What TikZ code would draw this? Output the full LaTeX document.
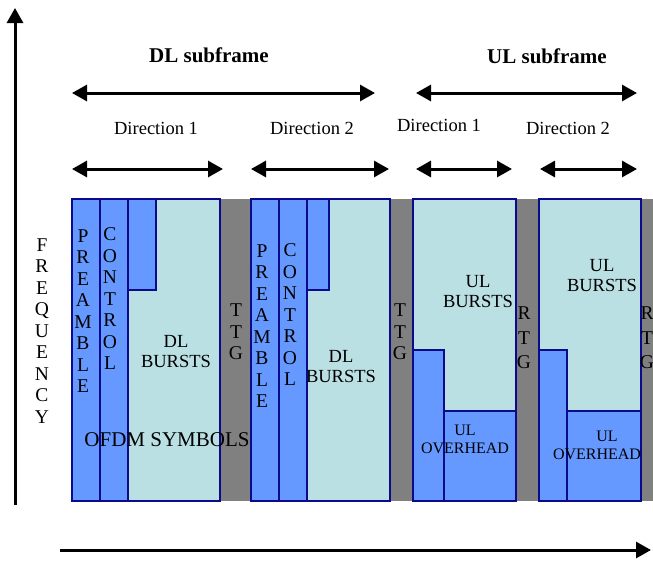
\documentclass[tikz,border=0pt]{standalone}
\usepackage{fontspec}
\setmainfont{Liberation Serif}
\usetikzlibrary{arrows.meta}
\definecolor{blk}{HTML}{6699FF}
\definecolor{lite}{HTML}{BBE0E3}
\definecolor{gap}{HTML}{808080}
\definecolor{edge}{HTML}{0A0A8A}
\tikzset{
  blue block/.style={fill=blk,draw=edge,line width=1.5pt},
  light block/.style={fill=lite,draw=edge,line width=1.5pt},
  txt/.style={font=\fontsize{18.5}{20}\selectfont,align=center,inner sep=0pt},
  small txt/.style={font=\fontsize{16}{18}\selectfont,align=center,inner sep=0pt},
  vert/.style={font=\fontsize{19.5}{21.5}\selectfont,align=center,inner sep=0pt},
  vertw/.style={font=\fontsize{19.5}{24.5}\selectfont,align=center,inner sep=0pt},
  title/.style={font=\fontsize{21}{23}\selectfont\bfseries,inner sep=0pt},
  dir/.style={font=\fontsize{18.5}{20}\selectfont,inner sep=0pt},
  dbl/.style={line width=3pt,{Triangle[length=15pt,width=16pt]}-{Triangle[length=15pt,width=16pt]}},
  axis/.style={line width=3pt,-{Triangle[length=15pt,width=16pt]}}
}
\begin{document}
\begin{tikzpicture}[x=1pt,y=-1pt]
\useasboundingbox (0,0) rectangle (653,560);
% gray guard background
\fill[gap] (220,199) rectangle (653,501);
% DL part 1
\draw[blue block] (72,199) rectangle (100,501);
\draw[blue block] (100,199) rectangle (128,501);
\draw[light block] (128,199) rectangle (220,501);
\draw[blue block] (128,199) rectangle (156,290);
% DL part 2
\draw[blue block] (251,199) rectangle (279,501);
\draw[blue block] (279,199) rectangle (307,501);
\draw[light block] (307,199) rectangle (390,501);
\draw[blue block] (307,199) rectangle (329,290);
% UL part 1
\draw[light block] (413,199) rectangle (516,501);
\draw[blue block] (413,350) rectangle (444,501);
\draw[blue block] (444,411) rectangle (516,501);
% UL part 2
\draw[light block] (539,199) rectangle (641,501);
\draw[blue block] (539,350) rectangle (567,501);
\draw[blue block] (567,411) rectangle (641,501);

% texts in blocks
\node[vert] (pre1) at (83,311) {P\\R\\E\\A\\M\\B\\L\\E};
\node[vert] (con1) at (110,299) {C\\O\\N\\T\\R\\O\\L};
\node[txt] (dlb1) at (176,352) {DL\\BURSTS};
\node[vert] (ttg1) at (236,332) {T\\T\\G};
\node[vert] (pre2) at (262,326) {P\\R\\E\\A\\M\\B\\L\\E};
\node[vert] (con2) at (290,315) {C\\O\\N\\T\\R\\O\\L};
\node[txt] (dlb2) at (341,367) {DL\\BURSTS};
\node[vert] (ttg2) at (400,332) {T\\T\\G};
\node[txt] (ulb1) at (478,292) {UL\\BURSTS};
\node[vertw] (rtg1) at (524,338) {R\\T\\G};
\node[small txt] (ulo1) at (465,439) {UL\\OVERHEAD};
\node[txt] (ulb2) at (602,276) {UL\\BURSTS};
\node[vertw] (rtg2) at (647,338) {R\\T\\G};
\node[small txt] (ulo2) at (597,445) {\hspace*{20pt}UL\\OVERHEAD};
\node[font=\fontsize{21}{23}\selectfont,inner sep=0pt] (ofdm) at (167,440) {OFDM SYMBOLS};
\node[vert] (freq) at (42,331) {F\\R\\E\\Q\\U\\E\\N\\C\\Y};

% titles
\node[title] (dlt) at (209,55) {DL subframe};
\node[title] (ult) at (547,56) {UL subframe};
\node[dir] (d1a) at (156,128) {Direction 1};
\node[dir] (d2a) at (312,128) {Direction 2};
\node[dir] (d1b) at (439,125) {Direction 1};
\node[dir] (d2b) at (568,128) {Direction 2};

% arrow end points
\coordinate (dlL) at (72,93);  \coordinate (dlR) at (375,93);
\coordinate (ulL) at (416,93); \coordinate (ulR) at (637,93);
\coordinate (a1L) at (72,169);  \coordinate (a1R) at (223,169);
\coordinate (a2L) at (251,169); \coordinate (a2R) at (389,169);
\coordinate (a3L) at (416,169); \coordinate (a3R) at (512,169);
\coordinate (a4L) at (540,169); \coordinate (a4R) at (637,169);
\coordinate (vB) at (15,505); \coordinate (vT) at (15,8);
\coordinate (hL) at (60,550); \coordinate (hR) at (651,550);

\draw[dbl] (dlL) -- (dlR);
\draw[dbl] (ulL) -- (ulR);
\draw[dbl] (a1L) -- (a1R);
\draw[dbl] (a2L) -- (a2R);
\draw[dbl] (a3L) -- (a3R);
\draw[dbl] (a4L) -- (a4R);
\draw[axis] (vB) -- (vT);
\draw[axis] (hL) -- (hR);
\end{tikzpicture}
\end{document}
